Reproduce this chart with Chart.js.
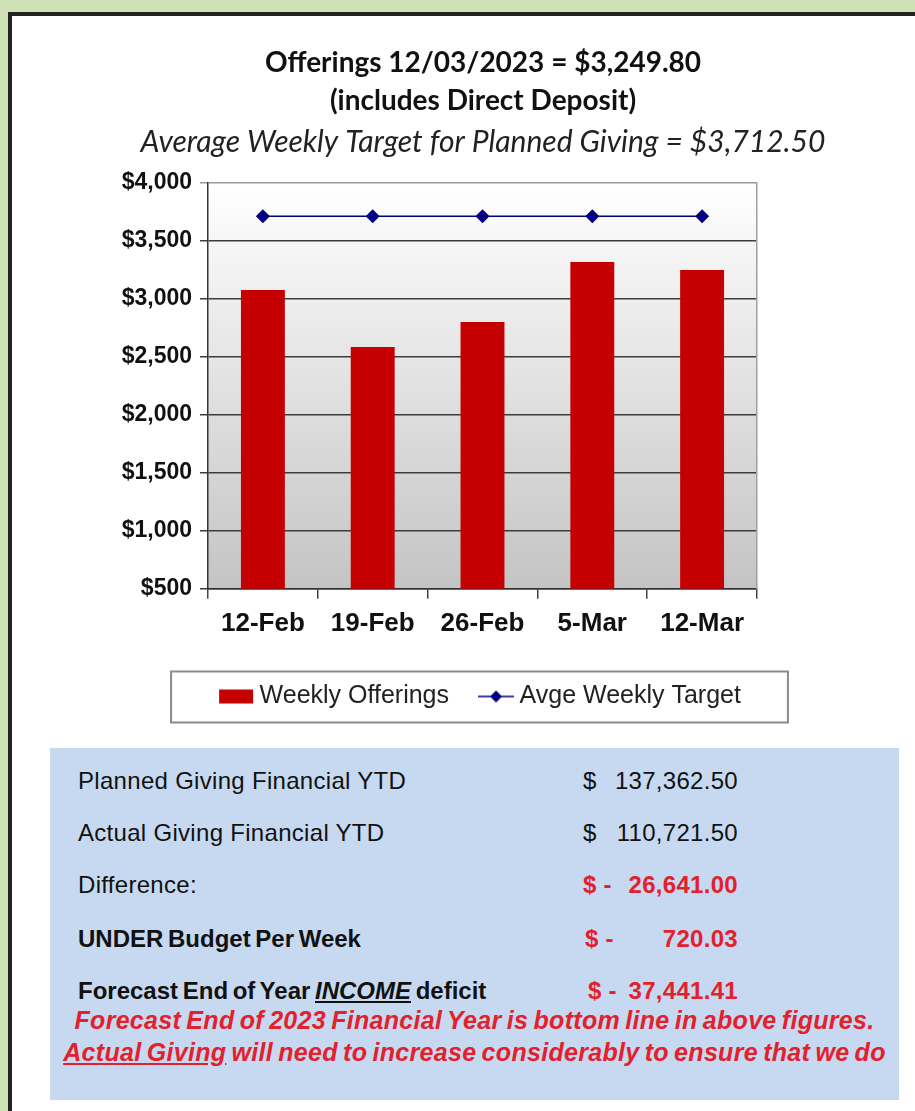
<!DOCTYPE html>
<html>
<head>
<meta charset="utf-8">
<script src="https://cdn.jsdelivr.net/npm/chart.js@4.4.1/dist/chart.umd.min.js"></script>
<style>
  html, body { margin: 0; padding: 0; }
  body { width: 915px; height: 1111px; overflow: hidden; background: #cfe2b6; position: relative; font-family: "Liberation Sans", Arial, sans-serif; }
  #panel { position: absolute; left: 8px; top: 12px; width: 930px; height: 1120px; background: #fff; border-left: 4px solid #222; border-top: 4px solid #222; }
  #chartWrap { position: absolute; left: 0; top: 0; width: 966px; height: 745px; }
  #summary { position: absolute; left: 50px; top: 748px; width: 849px; height: 352px; background: #c6d9f0; color: #111; }
  .row { position: absolute; left: 28px; width: 800px; height: 30px; line-height: 30px; font-size: 24px; letter-spacing: 0.3px; }
  .row .lbl { position: absolute; left: 0; white-space: nowrap; }
  .row .cur { position: absolute; left: 505px; }
  .row .val { position: absolute; right: 140px; }
  .row.bold .lbl { font-weight: bold; word-spacing: -2px; letter-spacing: 0; }
  .red { color: #e3202c; font-weight: bold; }
  .foot { position: absolute; left: 0; width: 849px; text-align: center; color: #e3202c; font-weight: bold; font-style: italic; font-size: 25px; line-height: 30px; word-spacing: -2px; letter-spacing: 0.3px; white-space: nowrap; }
</style>
</head>
<body>
<div id="panel"></div>
<div id="chartWrap"><canvas id="offeringsChart" width="966" height="745"></canvas></div>

<div id="summary">
  <div class="row" style="top:18px"><span class="lbl">Planned Giving Financial YTD</span><span class="cur">$</span><span class="val">137,362.50</span></div>
  <div class="row" style="top:70px"><span class="lbl">Actual Giving Financial YTD</span><span class="cur">$</span><span class="val">110,721.50</span></div>
  <div class="row" style="top:122px"><span class="lbl">Difference:</span><span class="cur red">$ -</span><span class="val red">26,641.00</span></div>
  <div class="row bold" style="top:176px"><span class="lbl">UNDER Budget Per Week</span><span class="cur red" style="left:507px">$ -</span><span class="val red">720.03</span></div>
  <div class="row bold" style="top:228px"><span class="lbl">Forecast End of Year <i><u>INCOME</u></i> deficit</span><span class="cur red" style="left:510px">$ -</span><span class="val red">37,441.41</span></div>
  <div class="foot" style="top:257px">Forecast End of 2023 Financial Year is bottom line in above figures.</div>
  <div class="foot" style="top:289px"><u>Actual Giving</u> will need to increase considerably to ensure that we do</div>
</div>

<script>
// chart data
const weeks = ['12-Feb', '19-Feb', '26-Feb', '5-Mar', '12-Mar'];
const weeklyOfferings = [3078, 2586, 2802, 3319, 3249.80];
const weeklyTarget = [3712.50, 3712.50, 3712.50, 3712.50, 3712.50];
const yMin = 500;
const yMax = 4000;
const yStep = 500;

const titleLines = ['Offerings 12/03/2023 = $3,249.80', '(includes Direct Deposit)'];
const subtitleText = 'Average Weekly Target for Planned Giving = $3,712.50';

const barRed = '#c40000';
const navy = '#000080';

// little pictures for the legend markers
function makeMarker(kind) {
  const c = document.createElement('canvas');
  c.width = 36;
  c.height = 16;
  const g = c.getContext('2d');
  if (kind === 'bar') {
    g.fillStyle = barRed;
    g.fillRect(1, 1, 34, 14);
  } else {
    g.strokeStyle = navy;
    g.lineWidth = 1.5;
    g.beginPath();
    g.moveTo(0, 8);
    g.lineTo(36, 8);
    g.stroke();
    g.fillStyle = navy;
    g.beginPath();
    g.moveTo(18, 2);
    g.lineTo(24, 8);
    g.lineTo(18, 14);
    g.lineTo(12, 8);
    g.closePath();
    g.fill();
  }
  return c;
}
const markers = [makeMarker('bar'), makeMarker('line')];

// grey gradient behind the plot
const plotBackground = {
  id: 'plotBackground',
  beforeDraw(chart) {
    const { ctx, chartArea: a } = chart;
    const grad = ctx.createLinearGradient(0, a.top, 0, a.bottom);
    grad.addColorStop(0, '#ffffff');
    grad.addColorStop(0.15, '#f6f6f6');
    grad.addColorStop(1, '#c4c4c4');
    ctx.save();
    ctx.fillStyle = grad;
    ctx.fillRect(a.left, a.top, a.right - a.left, a.bottom - a.top);
    ctx.restore();
  }
};

// frame round the legend
const legendFrame = {
  id: 'legendFrame',
  afterDraw(chart) {
    const boxes = chart.legend.legendHitBoxes;
    if (!boxes || !boxes.length) return;
    const first = boxes[0];
    const last = boxes[boxes.length - 1];
    const mid = first.top + first.height / 2;
    const ctx = chart.ctx;
    ctx.save();
    ctx.strokeStyle = '#8a8a8a';
    ctx.lineWidth = 2;
    ctx.strokeRect(first.left - 54, mid - 25, (last.left + last.width + 47) - (first.left - 54), 51);
    ctx.restore();
  }
};

const ctx = document.getElementById('offeringsChart').getContext('2d');
new Chart(ctx, {
  type: 'bar',
  data: {
    labels: weeks,
    datasets: [{
      label: 'Weekly Offerings',
      data: weeklyOfferings,
      backgroundColor: barRed,
      borderWidth: 0,
      categoryPercentage: 0.5,
      barPercentage: 0.8
    }, {
      type: 'line',
      label: 'Avge Weekly Target',
      data: weeklyTarget,
      borderColor: navy,
      borderWidth: 1.5,
      backgroundColor: navy,
      pointStyle: 'rectRot',
      pointRadius: 7,
      pointBackgroundColor: navy,
      pointBorderWidth: 0,
      fill: false
    }]
  },
  options: {
    responsive: false,
    devicePixelRatio: 1,
    animation: false,
    layout: { padding: { top: 0, left: 0, right: 0, bottom: 26 } },
    scales: {
      x: {
        offset: true,
        grid: { offset: true, drawOnChartArea: false, drawTicks: true, tickLength: 10, color: '#444', lineWidth: 1.5 },
        border: { display: true, color: '#333', width: 1.5 },
        ticks: { color: '#111', padding: 9, font: { family: 'Liberation Sans', size: 26, weight: 'bold' } }
      },
      y: {
        min: yMin,
        max: yMax,
        afterFit(scale) { scale.width = 208; },
        grid: {
          color: (c) => (c.tick && c.tick.value === yMax ? '#9a9a9a' : '#3c3c3c'),
          lineWidth: 1.5,
          tickLength: 8
        },
        border: { display: true, color: '#333', width: 1.5 },
        ticks: {
          stepSize: yStep,
          padding: 8,
          color: '#111',
          font: { family: 'Liberation Sans', size: 23, weight: 'bold' },
          callback: (v) => '$' + v.toLocaleString('en-US')
        }
      },
      yRight: {
        position: 'right',
        min: yMin,
        max: yMax,
        afterFit(scale) { scale.width = 209; },
        grid: { display: false },
        ticks: { display: false },
        border: { display: true, color: '#a0a0a0', width: 1.5 }
      }
    },
    plugins: {
      title: {
        display: true,
        text: titleLines,
        color: '#111',
        font: { family: 'Lato', size: 28, weight: 'bold', lineHeight: 38 / 28 },
        padding: { top: 44, bottom: 0 }
      },
      subtitle: {
        display: true,
        text: subtitleText,
        color: '#222',
        font: { family: 'Lato', size: 30, style: 'italic', weight: 'normal', lineHeight: 38 / 30 },
        padding: { top: 3, bottom: 22 }
      },
      legend: {
        position: 'bottom',
        labels: {
          color: '#222',
          font: { family: 'Liberation Sans', size: 25 },
          usePointStyle: true,
          pointStyleWidth: 22,
          boxHeight: 16,
          padding: 36,
          generateLabels(chart) {
            return chart.data.datasets.map((ds, i) => ({
              text: ds.label,
              pointStyle: markers[i],
              fillStyle: 'transparent',
              strokeStyle: 'transparent',
              lineWidth: 0,
              fontColor: '#222',
              datasetIndex: i
            }));
          }
        }
      },
      tooltip: { enabled: false }
    }
  },
  plugins: [plotBackground, legendFrame]
});
</script>
</body>
</html>
